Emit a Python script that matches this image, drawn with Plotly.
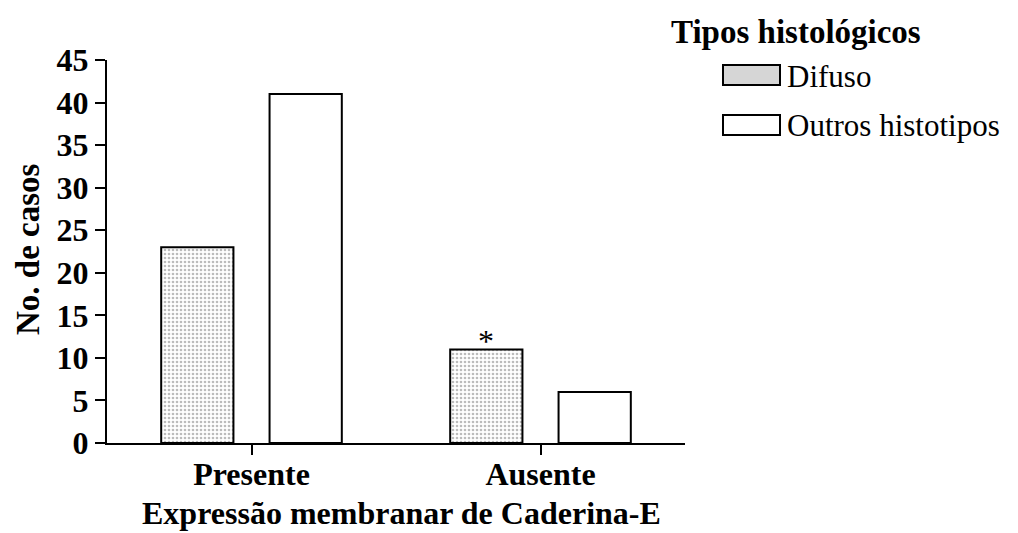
import plotly.graph_objects as go

categories = ["Presente", "Ausente"]
difuso = [23, 11]
outros = [41, 6]
y_ticks = [0, 5, 10, 15, 20, 25, 30, 35, 40, 45]
series_names = ["Difuso", "Outros histotipos"]

FONT = "Liberation Serif"

# page body has an 8px margin: size the figure so it fits the 1018x533 window
W, H = 1010, 525
L, T, PW, PH = 99, 52, 578, 383
PX0, PY0 = 107, 443  # page pixel of plot-area bottom-left


def px(x):
    return (x - PX0) / PW


def py(y):
    return (PY0 - y) / PH


DOT_PATTERN = dict(shape=".", fgcolor="#7a7a7a", bgcolor="white", size=4, solidity=0.35)

fig = go.Figure()
fig.add_trace(go.Bar(
    x=categories, y=difuso, name=series_names[0], showlegend=False,
    marker=dict(color="white", line=dict(color="black", width=2), pattern=DOT_PATTERN),
))
fig.add_trace(go.Bar(
    x=categories, y=outros, name=series_names[1], showlegend=False,
    marker=dict(color="white", line=dict(color="black", width=2)),
))

fig.add_annotation(x=categories[1], y=difuso[1], text="*", showarrow=False,
                   xshift=-55, yanchor="bottom", yshift=-12,
                   font=dict(family=FONT, size=32, color="black"))

# legend (drawn manually to match the wide key boxes)
fig.add_annotation(x=px(669), y=py(32), xref="paper", yref="paper",
                   text="Tipos histológicos", showarrow=False, xanchor="left", yanchor="middle",
                   font=dict(family=FONT, size=33, color="black", weight="bold"))
key_rows = [(65, 85, "#d6d6d6"), (115, 135, "white")]
for name, (y0, y1, fill) in zip(series_names, key_rows):
    fig.add_shape(type="rect", xref="paper", yref="paper",
                  x0=px(723), x1=px(780), y0=py(y1), y1=py(y0),
                  line=dict(color="black", width=2), fillcolor=fill)
    fig.add_annotation(x=px(785), y=py(y1 - 9), xref="paper", yref="paper",
                       text=name, showarrow=False, xanchor="left", yanchor="middle",
                       font=dict(family=FONT, size=31, color="black"))

# axis titles
fig.add_annotation(x=px(28), y=py(249), xref="paper", yref="paper",
                   text="No. de casos", textangle=-90, showarrow=False,
                   xanchor="center", yanchor="middle",
                   font=dict(family=FONT, size=33, color="black", weight="bold"))
fig.add_annotation(x=px(401), y=py(513), xref="paper", yref="paper",
                   text="Expressão membranar de Caderina-E", showarrow=False,
                   xanchor="center", yanchor="middle",
                   font=dict(family=FONT, size=32, color="black", weight="bold"))

fig.update_layout(
    width=W, height=H,
    margin=dict(l=L, r=W - L - PW, t=T, b=H - T - PH),
    paper_bgcolor="white", plot_bgcolor="white",
    barmode="group", bargap=0.25, bargroupgap=1/3,
    font=dict(family=FONT, color="black"),
    showlegend=False,
    xaxis=dict(range=[-0.5, 1.5], showline=True, linecolor="black", linewidth=2,
               ticks="outside", ticklen=10, tickwidth=2, tickcolor="black",
               ticklabelstandoff=-8,
               tickfont=dict(family=FONT, size=32, color="black", weight="bold"),
               showgrid=False, zeroline=False, automargin=False),
    yaxis=dict(range=[0, 45], tickvals=y_ticks, showline=True, linecolor="black", linewidth=2,
               ticks="outside", ticklen=10, tickwidth=2, tickcolor="black",
               tickfont=dict(family=FONT, size=32, color="black", weight="bold"),
               showgrid=False, zeroline=False, automargin=False),
)

fig.write_html("out.html")
